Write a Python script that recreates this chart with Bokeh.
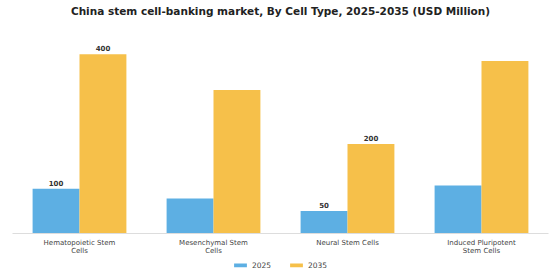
from bokeh.plotting import figure
from bokeh.models import ColumnDataSource, FactorRange, Legend, LegendItem, LabelSet, Label, Range1d
from bokeh.layouts import column
from bokeh.core.properties import value
from bokeh.transform import dodge
from bokeh.embed import file_html
from bokeh.resources import INLINE

title_text = "China stem cell-banking market, By Cell Type, 2025-2035 (USD Million)"
categories = ["Hematopoietic Stem\nCells", "Mesenchymal Stem\nCells", "Neural Stem Cells", "Induced Pluripotent\nStem Cells"]
values_2025 = [100, 78, 50, 107]
values_2035 = [400, 320, 200, 385]
labeled = [True, False, True, False]
series_names = ["2025", "2035"]
colors = ["#5DAFE3", "#F6C04A"]

src = ColumnDataSource(dict(cat=categories, v25=values_2025, v35=values_2035))
lab25 = ColumnDataSource(dict(cat=[c for c, l in zip(categories, labeled) if l],
                              v=[v for v, l in zip(values_2025, labeled) if l],
                              t=[str(v) for v, l in zip(values_2025, labeled) if l]))
lab35 = ColumnDataSource(dict(cat=[c for c, l in zip(categories, labeled) if l],
                              v=[v for v, l in zip(values_2035, labeled) if l],
                              t=[str(v) for v, l in zip(values_2035, labeled) if l]))

p = figure(width=560, height=258, x_range=FactorRange(*categories, range_padding=0),
           y_range=Range1d(0, 520), output_backend="svg", toolbar_location=None,
           y_axis_location=None, min_border_left=12, min_border_right=12,
           min_border_top=0, min_border_bottom=24)
p.outline_line_color = None
p.grid.visible = False
p.background_fill_color = "white"
p.border_fill_color = "white"

r1 = p.vbar(x=dodge("cat", -0.175, range=p.x_range), top="v25", width=0.35, source=src,
            fill_color=colors[0], line_color=None)
r2 = p.vbar(x=dodge("cat", 0.175, range=p.x_range), top="v35", width=0.35, source=src,
            fill_color=colors[1], line_color=None)

for s, off in ((lab25, -0.175), (lab35, 0.175)):
    ls = LabelSet(x=dodge("cat", off, range=p.x_range), y="v", text="t", source=s,
                  text_align="center", text_baseline="bottom", y_offset=3,
                  text_font=value("DejaVu Sans"), text_font_size="7px", text_font_style="bold",
                  text_color="#333333")
    p.add_layout(ls)

title = Label(x=268, y=222.5, x_units="screen", y_units="screen", text=title_text,
              text_align="center", text_baseline="middle", text_font="DejaVu Sans",
              text_font_size="10.5px", text_font_style="bold", text_color="#222222")
p.add_layout(title)

ax = p.xaxis[0]
ax.axis_line_color = "#dddddd"
ax.major_tick_line_color = None
ax.minor_tick_line_color = None
ax.major_tick_out = 0
ax.major_tick_in = 0
ax.minor_tick_out = 0
ax.minor_tick_in = 0
ax.major_label_text_font = "DejaVu Sans"
ax.major_label_text_font_size = "7px"
ax.major_label_text_color = "#444444"
ax.major_label_text_line_height = 1.1
ax.major_label_standoff = 5

# legend strip below the chart; zero-height proxy bars only carry the legend swatches
lf = figure(width=560, height=14, x_range=Range1d(0, 1), y_range=Range1d(0, 1),
            output_backend="svg", toolbar_location=None,
            x_axis_location=None, y_axis_location=None, min_border=0)
lf.outline_line_color = None
lf.grid.visible = False
lf.border_fill_color = "white"
proxy = ColumnDataSource(dict(x=[0.5], top=[0], bottom=[0]))
lg1 = lf.vbar(x="x", top="top", bottom="bottom", width=0.01, source=proxy,
              fill_color=colors[0], line_color=None)
lg2 = lf.vbar(x="x", top="top", bottom="bottom", width=0.01, source=proxy,
              fill_color=colors[1], line_color=None)

legend = Legend(items=[LegendItem(label=series_names[0], renderers=[lg1]),
                       LegendItem(label=series_names[1], renderers=[lg2])],
                orientation="horizontal", location="center")
legend.label_text_font = "DejaVu Sans"
legend.label_text_font_size = "7.5px"
legend.label_text_color = "#444444"
legend.label_height = 9
legend.glyph_width = 16
legend.glyph_height = 5
legend.label_standoff = 4
legend.spacing = 16
legend.padding = 0
legend.margin = 0
legend.border_line_color = None
legend.background_fill_alpha = 0
lf.add_layout(legend)

layout = column(p, lf, spacing=0)
open("out.html", "w").write(file_html(layout, INLINE))
